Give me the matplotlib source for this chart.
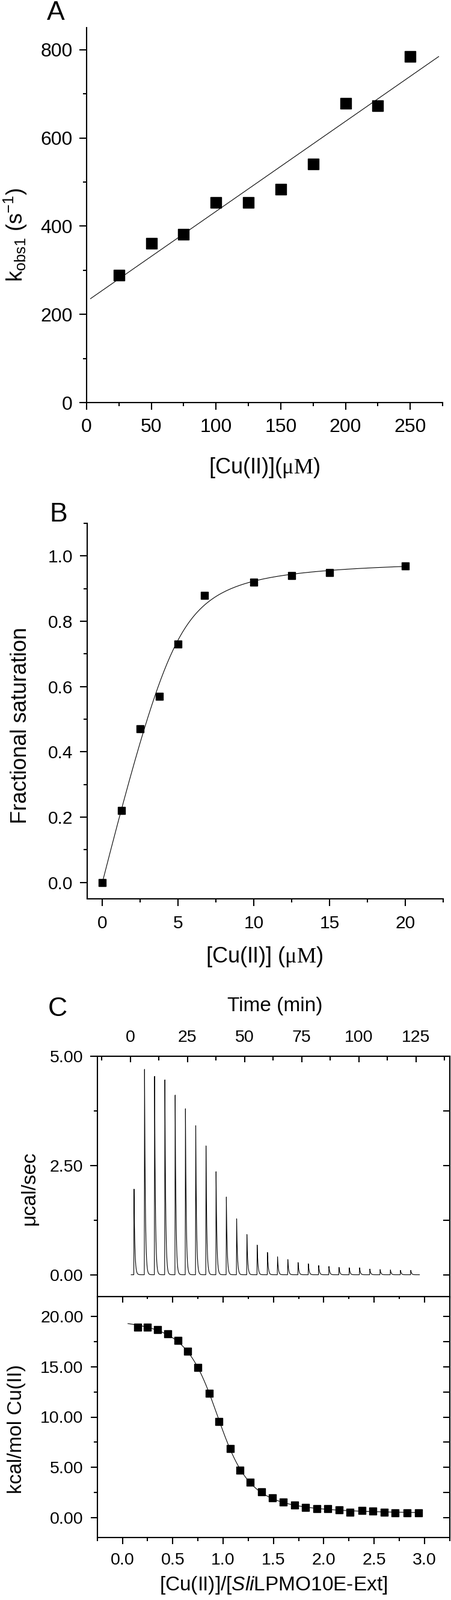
import numpy as np
import matplotlib
matplotlib.use('Agg')
import matplotlib.pyplot as plt
from matplotlib.ticker import MultipleLocator, FormatStrFormatter

# ---------------------------------
# data
# ---------------------------------
# A: observed rate vs copper
a_cu = [25, 50, 75, 100, 125, 150, 175, 200, 225, 250]
a_kobs = [289, 361, 382, 454, 454, 483, 541, 678, 673, 785]

# B: fractional saturation titration
b_cu = [0, 1.25, 2.5, 3.75, 5, 6.75, 10, 12.5, 15, 20]
b_sat = [0, 0.22, 0.47, 0.57, 0.73, 0.88, 0.92, 0.94, 0.95, 0.97]

# C top: ITC thermogram, injection times (min) and peak heights (ucal/sec)
itc_time = [1.6, 6.2, 10.6, 15.1, 19.6, 24.1, 28.6, 33.1, 37.5, 42.0, 46.5,
            51.0, 55.5, 60.0, 64.4, 68.9, 73.4, 77.9, 82.4, 86.9, 91.3, 95.8,
            100.3, 104.8, 109.3, 113.8, 118.2, 122.7]
itc_peak = [1.96, 4.70, 4.54, 4.46, 4.11, 3.80, 3.41, 2.95, 2.36, 1.78, 1.28,
            0.92, 0.68, 0.51, 0.41, 0.35, 0.28, 0.25, 0.21, 0.19, 0.17, 0.16,
            0.16, 0.13, 0.12, 0.11, 0.10, 0.10]

# C bottom: integrated heats
c_ratio = [0.15, 0.25, 0.35, 0.45, 0.55, 0.65, 0.75, 0.86, 0.96, 1.07, 1.17,
           1.27, 1.38, 1.49, 1.60, 1.71, 1.82, 1.93, 2.04, 2.15, 2.26, 2.38,
           2.49, 2.60, 2.71, 2.83, 2.94]
c_heat = [18.95, 18.93, 18.68, 18.27, 17.63, 16.55, 14.93, 12.38, 9.57, 6.83,
          4.73, 3.49, 2.55, 1.95, 1.55, 1.22, 1.00, 0.88, 0.85, 0.75, 0.54,
          0.69, 0.64, 0.54, 0.43, 0.45, 0.47]

plt.rcParams['font.family'] = ['Liberation Sans', 'DejaVu Sans']
plt.rcParams['mathtext.fontset'] = 'custom'
plt.rcParams['mathtext.rm'] = 'Liberation Serif'
plt.rcParams['mathtext.sf'] = 'Liberation Sans'
plt.rcParams['mathtext.it'] = 'Liberation Sans:italic'
plt.rcParams['mathtext.bf'] = 'Liberation Sans:bold'

W, H = 750, 2663
fig = plt.figure(figsize=(W / 100, H / 100), dpi=100)


def box(left, top, right, bottom):
    return [left / W, 1 - bottom / H, (right - left) / W, (bottom - top) / H]


def open_axes(ax, size, xpad, ypad):
    ax.spines['top'].set_visible(False)
    ax.spines['right'].set_visible(False)
    for s in ax.spines.values():
        s.set_linewidth(1.5)
    ax.tick_params(which='both', direction='out', width=1.5, labelsize=size)
    ax.tick_params(which='major', length=8.6)
    ax.tick_params(which='minor', length=4.3)
    ax.tick_params(axis='x', pad=xpad)
    ax.tick_params(axis='y', pad=ypad)


# ---------------------------------
# A
# ---------------------------------
ax = fig.add_axes(box(144, 46, 736, 670))
slope, icpt = np.polyfit(a_cu, a_kobs, 1)
xx = np.linspace(3, 272, 50)
ax.plot(xx, icpt + slope * xx, color='k', lw=0.8)
ax.plot(a_cu, a_kobs, 's', color='k', ms=13)
ax.set_xlim(0, 275)
ax.set_ylim(0, 850)
ax.xaxis.set_major_locator(MultipleLocator(50))
ax.xaxis.set_minor_locator(MultipleLocator(25))
ax.yaxis.set_major_locator(MultipleLocator(200))
ax.yaxis.set_minor_locator(MultipleLocator(100))
open_axes(ax, 23, 10, 8)
ax.set_ylabel(r'k$_{\mathsf{obs1}}$ (s$^{\mathsf{-1}}$)', fontsize=26, va='center')
ax.yaxis.set_label_coords((26 - 144) / 592, (670 - 391) / 624)
ax.set_xlabel(r'[Cu(II)]($\mathrm{\mu M}$)', fontsize=26, va='center')
ax.xaxis.set_label_coords((440 - 144) / 592, (670 - 778) / 624)

# ---------------------------------
# B
# ---------------------------------
def tight(L, P, K):
    s = P + L + K
    return (s - np.sqrt(s ** 2 - 4 * P * L)) / (2 * P)

bx = np.array(b_cu)
by = np.array(b_sat)
P = np.linspace(2, 8, 241)[:, None, None]
K = np.linspace(0.01, 3, 300)[None, :, None]
f = tight(bx[None, None, :], P, K)
bmax = (f * by).sum(-1) / (f * f).sum(-1)
err = ((bmax[..., None] * f - by) ** 2).sum(-1)
i, j = np.unravel_index(err.argmin(), err.shape)
xb = np.linspace(0, 20, 300)

ax = fig.add_axes(box(145, 871, 737, 1496))
ax.plot(xb, bmax[i, j] * tight(xb, P[i, 0, 0], K[0, j, 0]), color='k', lw=0.8)
ax.plot(b_cu, b_sat, 's', color='k', ms=8.6)
ax.set_xlim(-1, 22.5)
ax.set_ylim(-0.05, 1.1)
ax.xaxis.set_major_locator(MultipleLocator(5))
ax.xaxis.set_minor_locator(MultipleLocator(2.5))
ax.yaxis.set_major_locator(MultipleLocator(0.2))
ax.yaxis.set_minor_locator(MultipleLocator(0.1))
ax.yaxis.set_major_formatter(FormatStrFormatter('%.1f'))
open_axes(ax, 21.5, 11, 8.5)
ax.set_ylabel('Fractional saturation', fontsize=26, va='center')
ax.yaxis.set_label_coords((35 - 145) / 592, (1496 - 1207) / 625)
ax.set_xlabel(r'[Cu(II)] ($\mathrm{\mu M}$)', fontsize=26, va='center')
ax.xaxis.set_label_coords((440 - 145) / 592, (1496 - 1593) / 625)

# ---------------------------------
# C top: raw ITC trace
# ---------------------------------
t = np.union1d(np.linspace(0.35, 126.5, 20000), itc_time)
sig = np.zeros_like(t)
for ti, hi in zip(itc_time, itc_peak):
    dt = t - ti
    rise = (dt >= -0.1) & (dt < 0)
    sig[rise] += hi * (1 + dt[rise] / 0.1)
    after = dt >= 0
    sig[after] += hi * np.exp(-dt[after] / 0.35)

ax1 = fig.add_axes(box(161.7, 1758, 747.7, 2158))
ax1.plot(t, sig, color='k', lw=0.8)
ax1.set_xlim(-14.5, 139.7)
ax1.set_ylim(-0.5, 5)
for s in ax1.spines.values():
    s.set_linewidth(1.5)
ax1.xaxis.tick_top()
ax1.xaxis.set_label_position('top')
ax1.xaxis.set_major_locator(MultipleLocator(25))
ax1.xaxis.set_minor_locator(MultipleLocator(12.5))
ax1.yaxis.set_major_locator(MultipleLocator(2.5))
ax1.yaxis.set_minor_locator(MultipleLocator(1.25))
ax1.yaxis.set_major_formatter(FormatStrFormatter('%.2f'))
ax1.tick_params(axis='x', which='both', direction='in', top=True, bottom=False,
                width=1.5, labelsize=20.5, pad=13)
ax1.tick_params(axis='x', which='major', length=7.2)
ax1.tick_params(axis='x', which='minor', length=4.8)
ax1.tick_params(axis='y', which='both', direction='out', left=True, right=False,
                width=1.5, labelsize=20.5, pad=8.4)
ax1.tick_params(axis='y', which='major', length=8.6)
ax1.tick_params(axis='y', which='minor', length=4.3)
r1 = ax1.secondary_yaxis('right')
r1.set_yticks([0, 1.25, 2.5, 3.75, 5])
r1.tick_params(direction='in', length=8, width=1.5, labelright=False)
r1.spines['right'].set_linewidth(1.5)
ax1.set_ylabel('μcal/sec', fontsize=24, va='center')
ax1.yaxis.set_label_coords((49 - 161.7) / 586, (2158 - 1978) / 400)
ax1.set_xlabel('Time (min)', fontsize=24, va='center')
ax1.xaxis.set_label_coords((457 - 161.7) / 586, (2158 - 1675) / 400)

# ---------------------------------
# C bottom: integrated heats + one-site fit
# ---------------------------------
def wiseman(X, n, c):
    xr = X / n
    r = 1.0 / c
    return 0.5 + (1 - xr - r) / (2 * np.sqrt((1 + xr + r) ** 2 - 4 * xr))

cx = np.array(c_ratio)
cy = np.array(c_heat)
nn = np.linspace(0.8, 1.1, 151)[:, None, None]
cc = np.logspace(0.5, 3.5, 200)[None, :, None]
w = wiseman(cx[None, None, :], nn, cc)
N = len(cx)
sw, sww = w.sum(-1), (w * w).sum(-1)
sy, swy = cy.sum(), (w * cy).sum(-1)
dH = (N * swy - sw * sy) / (N * sww - sw ** 2)
off = (sy - dH * sw) / N
err = ((dH[..., None] * w + off[..., None] - cy) ** 2).sum(-1)
i, j = np.unravel_index(err.argmin(), err.shape)
xc = np.linspace(0.055, 2.95, 300)

ax2 = fig.add_axes(box(161.7, 2158, 747.7, 2559))
ax2.plot(xc, dH[i, j] * wiseman(xc, nn[i, 0, 0], cc[0, j, 0]) + off[i, j],
         color='k', lw=0.8)
ax2.plot(c_ratio, c_heat, 's', color='k', ms=8.9)
ax2.set_xlim(-0.25, 3.25)
ax2.set_ylim(-2, 22)
for s in ax2.spines.values():
    s.set_linewidth(1.5)
ax2.xaxis.set_major_locator(MultipleLocator(0.5))
ax2.xaxis.set_minor_locator(MultipleLocator(0.25))
ax2.yaxis.set_major_locator(MultipleLocator(5))
ax2.yaxis.set_minor_locator(MultipleLocator(2.5))
ax2.xaxis.set_major_formatter(FormatStrFormatter('%.1f'))
ax2.yaxis.set_major_formatter(FormatStrFormatter('%.2f'))
ax2.tick_params(which='both', direction='out', top=False, right=False,
                width=1.5, labelsize=20.5)
ax2.tick_params(which='major', length=8.2)
ax2.tick_params(which='minor', length=4.3)
ax2.tick_params(axis='x', pad=9.5)
ax2.tick_params(axis='y', pad=8.4)
t2 = ax2.secondary_xaxis('top')
t2.xaxis.set_major_locator(MultipleLocator(0.5))
t2.xaxis.set_minor_locator(MultipleLocator(0.25))
t2.tick_params(which='both', direction='in', width=1.5, labeltop=False)
t2.tick_params(which='major', length=7.2)
t2.tick_params(which='minor', length=3)
r2 = ax2.secondary_yaxis('right')
r2.yaxis.set_major_locator(MultipleLocator(2.5))
r2.tick_params(direction='in', length=8, width=1.5, labelright=False)
ax2.set_ylabel('kcal/mol Cu(II)', fontsize=24, va='center')
ax2.yaxis.set_label_coords((28 - 161.7) / 586, (2559 - 2378) / 401)
ax2.set_xlabel(r'[Cu(II)]/[$\mathit{Sli}$LPMO10E-Ext]', fontsize=24, va='center')
ax2.xaxis.set_label_coords((455 - 161.7) / 586, (2559 - 2638) / 401)

# panel letters
fig.text(93 / W, 1 - 33 / H, 'A', fontsize=32, ha='center', va='baseline')
fig.text(97 / W, 1 - 868 / H, 'B', fontsize=32, ha='center', va='baseline')
fig.text(96 / W, 1 - 1691 / H, 'C', fontsize=32, ha='center', va='baseline')

fig.savefig('out.png', dpi=100)
